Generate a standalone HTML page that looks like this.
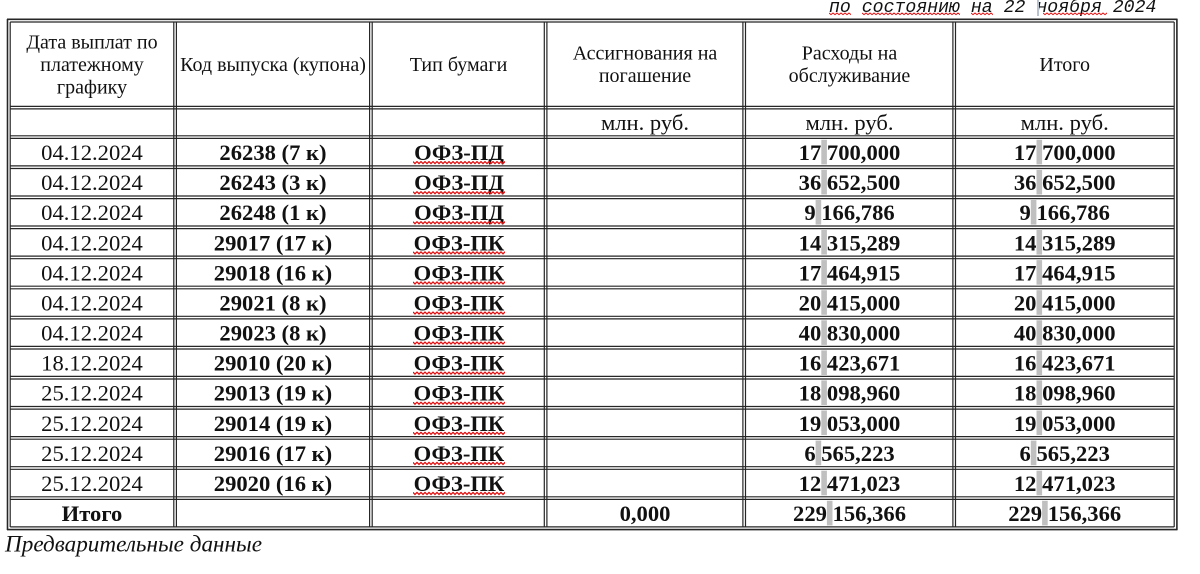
<!DOCTYPE html>
<html><head><meta charset="utf-8"><style>html,body{margin:0;padding:0;background:#fff}svg{display:block}</style></head>
<body>
<svg width="1200" height="574" viewBox="0 0 1200 574" xmlns="http://www.w3.org/2000/svg">
<defs>
<path id="w" d="M0 0.6l2 2 2-2 2 2 2-2 2 2 2-2 2 2 2-2 2 2 2-2 2 2 2-2 2 2 2-2 2 2 2-2 2 2 2-2 2 2 2-2 2 2 2-2 2 2 2-2 2 2 2-2 2 2 2-2 2 2 2-2 2 2 2-2 2 2 2-2 2 2 2-2 2 2 2-2 2 2 2-2 2 2 2-2 2 2 2-2 2 2 2-2 2 2 2-2 2 2 2-2 2 2 2-2 2 2 2-2 2 2 2-2 2 2 2-2 2 2 2-2 2 2 2-2 2 2 2-2 2 2 2-2 2 2 2-2 2 2 2-2" fill="none" stroke="#e01010" stroke-width="1.3"/>
<path id="w2" d="M0 0.5l2 1.6 2-1.6 2 1.6 2-1.6 2 1.6 2-1.6 2 1.6 2-1.6 2 1.6 2-1.6 2 1.6 2-1.6 2 1.6 2-1.6 2 1.6 2-1.6 2 1.6 2-1.6 2 1.6 2-1.6 2 1.6 2-1.6 2 1.6 2-1.6 2 1.6 2-1.6 2 1.6 2-1.6 2 1.6 2-1.6 2 1.6 2-1.6 2 1.6 2-1.6 2 1.6 2-1.6 2 1.6 2-1.6 2 1.6 2-1.6 2 1.6 2-1.6 2 1.6 2-1.6 2 1.6 2-1.6 2 1.6 2-1.6 2 1.6 2-1.6 2 1.6 2-1.6" fill="none" stroke="#e01010" stroke-width="1"/>
</defs>
<rect width="1200" height="574" fill="#fff"/>

<!-- gray field bars -->
<g fill="#c0c0c0">
<rect x="821.3" y="139.8" width="5.6" height="24.6"/><rect x="1036.5" y="139.8" width="5.6" height="24.6"/>
<rect x="821.3" y="169.9" width="5.6" height="24.6"/><rect x="1036.5" y="169.9" width="5.6" height="24.6"/>
<rect x="815.6" y="200.0" width="5.6" height="24.6"/><rect x="1030.8" y="200.0" width="5.6" height="24.6"/>
<rect x="821.3" y="230.0" width="5.6" height="24.6"/><rect x="1036.5" y="230.0" width="5.6" height="24.6"/>
<rect x="821.3" y="260.1" width="5.6" height="24.6"/><rect x="1036.5" y="260.1" width="5.6" height="24.6"/>
<rect x="821.3" y="290.2" width="5.6" height="24.6"/><rect x="1036.5" y="290.2" width="5.6" height="24.6"/>
<rect x="821.3" y="320.3" width="5.6" height="24.6"/><rect x="1036.5" y="320.3" width="5.6" height="24.6"/>
<rect x="821.3" y="350.4" width="5.6" height="24.6"/><rect x="1036.5" y="350.4" width="5.6" height="24.6"/>
<rect x="821.3" y="380.4" width="5.6" height="24.6"/><rect x="1036.5" y="380.4" width="5.6" height="24.6"/>
<rect x="821.3" y="410.5" width="5.6" height="24.6"/><rect x="1036.5" y="410.5" width="5.6" height="24.6"/>
<rect x="815.6" y="440.6" width="5.6" height="24.6"/><rect x="1030.8" y="440.6" width="5.6" height="24.6"/>
<rect x="821.3" y="470.7" width="5.6" height="24.6"/><rect x="1036.5" y="470.7" width="5.6" height="24.6"/>
<rect x="826.9" y="500.8" width="5.6" height="24.6"/><rect x="1042.1" y="500.8" width="5.6" height="24.6"/>
</g>

<!-- table lines -->
<g fill="none" stroke="#262626">
<path stroke-width="1.6" d="M7 19.3H1177.5M7 529.6H1177.5M7.5 19H7.5V530M1176.9 19V530"/>
<path stroke-width="1.2" d="M10.2 22H1174.2M10.2 526.9H1174.2M10.2 22V527M1174.2 22V527"/>
<path stroke-width="1.2" d="
M10.2 106.4H1174.2M10.2 108.9H1174.2
M10.2 135.8H1174.2M10.2 138.4H1174.2
M10.2 165.9H1174.2M10.2 168.5H1174.2
M10.2 196.0H1174.2M10.2 198.6H1174.2
M10.2 226.0H1174.2M10.2 228.6H1174.2
M10.2 256.1H1174.2M10.2 258.7H1174.2
M10.2 286.2H1174.2M10.2 288.8H1174.2
M10.2 316.3H1174.2M10.2 318.9H1174.2
M10.2 346.4H1174.2M10.2 349.0H1174.2
M10.2 376.4H1174.2M10.2 379.0H1174.2
M10.2 406.5H1174.2M10.2 409.1H1174.2
M10.2 436.6H1174.2M10.2 439.2H1174.2
M10.2 466.7H1174.2M10.2 469.3H1174.2
M10.2 496.8H1174.2M10.2 499.4H1174.2
M173.8 22V527M176.4 22V527
M369.6 22V527M372.2 22V527
M544.3 22V527M546.9 22V527
M742.9 22V527M745.5 22V527
M952.9 22V527M955.5 22V527"/>
</g>

<!-- top caption -->
<text x="829" y="12" font-family="'Liberation Mono','DejaVu Sans Mono',monospace" font-style="italic" font-size="18.2" fill="#111" xml:space="preserve">по состоянию на 22 ноября 2024</text>
<rect x="1037" y="0" width="2" height="16" fill="#b9c3cf"/>
<svg x="829" y="12.5" width="22" height="4"><use href="#w2"/></svg>
<svg x="862" y="12.5" width="98" height="4"><use href="#w2"/></svg>
<svg x="971" y="12.5" width="22" height="4"><use href="#w2"/></svg>
<svg x="1043" y="12.5" width="64" height="4"><use href="#w2"/></svg>

<!-- header -->
<g font-family="'Liberation Serif','DejaVu Serif',serif" font-size="20" fill="#111" text-anchor="middle">
<text x="92" y="48.5">Дата выплат по</text>
<text x="92" y="71">платежному</text>
<text x="92" y="93.5">графику</text>
<text x="273" y="71">Код выпуска (купона)</text>
<text x="458.5" y="71">Тип бумаги</text>
<text x="645" y="59.5">Ассигнования на</text>
<text x="645" y="82">погашение</text>
<text x="849.5" y="59.5">Расходы на</text>
<text x="849.5" y="82">обслуживание</text>
<text x="1064.7" y="71">Итого</text>
</g>

<g font-family="'Liberation Serif','DejaVu Serif',serif" font-size="22.6" fill="#111" text-anchor="middle">
<text x="645" y="130">млн. руб.</text>
<text x="849.5" y="130">млн. руб.</text>
<text x="1064.7" y="130">млн. руб.</text>

<text x="92" y="160.1">04.12.2024</text>
<text x="92" y="190.2">04.12.2024</text>
<text x="92" y="220.2">04.12.2024</text>
<text x="92" y="250.3">04.12.2024</text>
<text x="92" y="280.4">04.12.2024</text>
<text x="92" y="310.5">04.12.2024</text>
<text x="92" y="340.5">04.12.2024</text>
<text x="92" y="370.6">18.12.2024</text>
<text x="92" y="400.7">25.12.2024</text>
<text x="92" y="430.8">25.12.2024</text>
<text x="92" y="460.9">25.12.2024</text>
<text x="92" y="490.9">25.12.2024</text>
</g>

<g font-family="'Liberation Serif','DejaVu Serif',serif" font-size="22.6" font-weight="bold" fill="#111" text-anchor="middle">
<text x="273" y="160.1">26238 (7 к)</text>
<text x="273" y="190.2">26243 (3 к)</text>
<text x="273" y="220.2">26248 (1 к)</text>
<text x="273" y="250.3">29017 (17 к)</text>
<text x="273" y="280.4">29018 (16 к)</text>
<text x="273" y="310.5">29021 (8 к)</text>
<text x="273" y="340.5">29023 (8 к)</text>
<text x="273" y="370.6">29010 (20 к)</text>
<text x="273" y="400.7">29013 (19 к)</text>
<text x="273" y="430.8">29014 (19 к)</text>
<text x="273" y="460.9">29016 (17 к)</text>
<text x="273" y="490.9">29020 (16 к)</text>

<text x="459" y="160.1">ОФЗ-ПД</text>
<text x="459" y="190.2">ОФЗ-ПД</text>
<text x="459" y="220.2">ОФЗ-ПД</text>
<text x="459" y="250.3">ОФЗ-ПК</text>
<text x="459" y="280.4">ОФЗ-ПК</text>
<text x="459" y="310.5">ОФЗ-ПК</text>
<text x="459" y="340.5">ОФЗ-ПК</text>
<text x="459" y="370.6">ОФЗ-ПК</text>
<text x="459" y="400.7">ОФЗ-ПК</text>
<text x="459" y="430.8">ОФЗ-ПК</text>
<text x="459" y="460.9">ОФЗ-ПК</text>
<text x="459" y="490.9">ОФЗ-ПК</text>

<text x="849.5" y="160.1" xml:space="preserve">17 700,000</text><text x="1064.7" y="160.1" xml:space="preserve">17 700,000</text>
<text x="849.5" y="190.2" xml:space="preserve">36 652,500</text><text x="1064.7" y="190.2" xml:space="preserve">36 652,500</text>
<text x="849.5" y="220.2" xml:space="preserve">9 166,786</text><text x="1064.7" y="220.2" xml:space="preserve">9 166,786</text>
<text x="849.5" y="250.3" xml:space="preserve">14 315,289</text><text x="1064.7" y="250.3" xml:space="preserve">14 315,289</text>
<text x="849.5" y="280.4" xml:space="preserve">17 464,915</text><text x="1064.7" y="280.4" xml:space="preserve">17 464,915</text>
<text x="849.5" y="310.5" xml:space="preserve">20 415,000</text><text x="1064.7" y="310.5" xml:space="preserve">20 415,000</text>
<text x="849.5" y="340.5" xml:space="preserve">40 830,000</text><text x="1064.7" y="340.5" xml:space="preserve">40 830,000</text>
<text x="849.5" y="370.6" xml:space="preserve">16 423,671</text><text x="1064.7" y="370.6" xml:space="preserve">16 423,671</text>
<text x="849.5" y="400.7" xml:space="preserve">18 098,960</text><text x="1064.7" y="400.7" xml:space="preserve">18 098,960</text>
<text x="849.5" y="430.8" xml:space="preserve">19 053,000</text><text x="1064.7" y="430.8" xml:space="preserve">19 053,000</text>
<text x="849.5" y="460.9" xml:space="preserve">6 565,223</text><text x="1064.7" y="460.9" xml:space="preserve">6 565,223</text>
<text x="849.5" y="490.9" xml:space="preserve">12 471,023</text><text x="1064.7" y="490.9" xml:space="preserve">12 471,023</text>

<text x="92" y="521">Итого</text>
<text x="645" y="521">0,000</text>
<text x="849.5" y="521" xml:space="preserve">229 156,366</text><text x="1064.7" y="521" xml:space="preserve">229 156,366</text>
</g>

<!-- red wavy spell-check underlines -->
<svg x="413" y="161" width="92" height="4"><use href="#w"/></svg>
<svg x="413" y="191.1" width="92" height="4"><use href="#w"/></svg>
<svg x="413" y="221.1" width="92" height="4"><use href="#w"/></svg>
<svg x="413" y="251.2" width="92" height="4"><use href="#w"/></svg>
<svg x="413" y="281.3" width="92" height="4"><use href="#w"/></svg>
<svg x="413" y="311.4" width="92" height="4"><use href="#w"/></svg>
<svg x="413" y="341.4" width="92" height="4"><use href="#w"/></svg>
<svg x="413" y="371.5" width="92" height="4"><use href="#w"/></svg>
<svg x="413" y="401.6" width="92" height="4"><use href="#w"/></svg>
<svg x="413" y="431.7" width="92" height="4"><use href="#w"/></svg>
<svg x="413" y="461.8" width="92" height="4"><use href="#w"/></svg>
<svg x="413" y="491.8" width="92" height="4"><use href="#w"/></svg>

<!-- footnote -->
<text x="5" y="551.7" font-family="'Liberation Serif','DejaVu Serif',serif" font-style="italic" font-size="22.8" fill="#111" textLength="257" lengthAdjust="spacingAndGlyphs">Предварительные данные</text>
</svg>
</body></html>
